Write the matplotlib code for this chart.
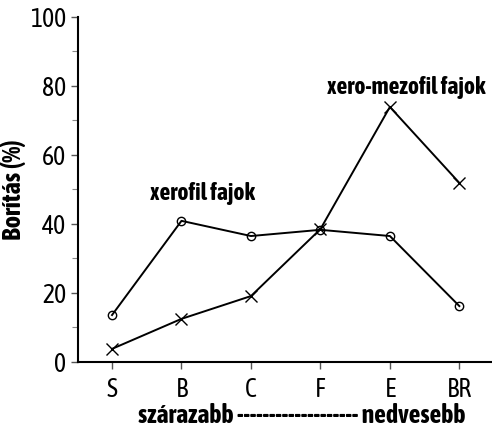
import matplotlib
matplotlib.use("Agg")
import matplotlib.pyplot as plt
from matplotlib.ticker import MultipleLocator

plt.rcParams['font.family'] = ['Asap Condensed', 'DejaVu Sans']

# Data
sites = ["S", "B", "C", "F", "E", "BR"]
xerofil = [13.6, 40.9, 36.5, 38.3, 36.5, 16.2]
xero_mezofil = [3.8, 12.5, 19.1, 38.5, 73.9, 51.9]

fig = plt.figure(figsize=(4.92, 4.33), dpi=100)
ax = fig.add_axes([0.1585, 0.164, 0.8415, 0.797])

x = range(len(sites))
ax.plot(x, xerofil, color="black", lw=1.4, marker="o", ms=6,
        mfc="none", mec="black", mew=1.0)
ax.plot(x, xero_mezofil, color="black", lw=1.4, marker="x", ms=8, mew=1.0)

ax.set_xlim(-0.49, 5.47)
ax.set_ylim(0, 100)
ax.set_xticks(list(x))
ax.set_xticklabels(sites)
ax.yaxis.set_major_locator(MultipleLocator(20))
ax.yaxis.set_minor_locator(MultipleLocator(10))

for side in ("top", "right"):
    ax.spines[side].set_visible(False)
ax.spines["left"].set_linewidth(1.5)
ax.spines["bottom"].set_linewidth(1.5)
ax.tick_params(axis="both", which="major", length=5, width=1, labelsize=18.5,
               color="#555555")
ax.tick_params(axis="y", which="minor", length=4, width=0.8, color="#888888")
ax.tick_params(axis="x", pad=6)

ax.set_ylabel("Borítás (%)", fontsize=19, fontweight="bold", labelpad=3)
ax.set_xlabel("szárazabb ------------------- nedvesebb", fontsize=18.5,
              fontweight="bold")
ax.xaxis.set_label_coords(0.54, -0.118)

ax.text(1.3, 48.7, "xerofil fajok", fontsize=17, fontweight="bold",
        ha="center", va="center")
ax.text(4.24, 79.5, "xero-mezofil fajok", fontsize=17, fontweight="bold",
        ha="center", va="center")

fig.savefig("out.png", dpi=100)
